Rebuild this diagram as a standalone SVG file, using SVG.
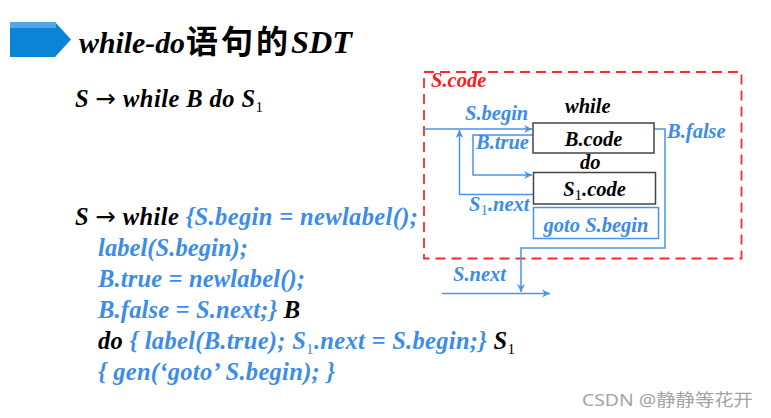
<svg xmlns="http://www.w3.org/2000/svg" width="771" height="418" viewBox="0 0 771 418">
<style>
.t{font-family:"Liberation Serif","Times New Roman",serif;font-weight:bold;font-style:italic}
.L{font-size:24.5px}
.d{font-size:20.5px}
.k{fill:#000}
.b{fill:#3c8ce8}
.r{fill:#ff1a1a}
.sub{font-style:normal;font-weight:normal;font-size:15px}
.ar{font-family:"DejaVu Sans",sans-serif;font-style:normal;font-weight:normal}
.cn{font-family:"Noto Sans CJK SC","Noto Sans",sans-serif;font-weight:bold;font-style:normal}
.ln{fill:none;stroke:#4a92ea;stroke-width:1.5}
.box{fill:#fff;stroke:#444;stroke-width:1.5}
</style>
<defs>
<marker id="ah" markerWidth="10" markerHeight="10" refX="8" refY="5" orient="auto" markerUnits="userSpaceOnUse">
<path d="M0,1 L8,5 L0,9 L2.5,5 Z" fill="#4a92ea"/>
</marker>
</defs>
<rect width="771" height="418" fill="#fff"/>

<g id="title">
<polygon points="10,22 55,22 71,39.5 55,57 10,57" fill="#0b84d6"/>
<rect x="10" y="22" width="46" height="6" fill="#52a6e2"/>
<text x="79" y="53" class="t k" font-size="30" textLength="106" lengthAdjust="spacingAndGlyphs">while-do</text>
<text x="186" y="53" class="cn" font-size="32" fill="#000" textLength="102" lengthAdjust="spacing">语句的</text>
<text x="291" y="53" class="t k" font-size="31" textLength="61" lengthAdjust="spacingAndGlyphs">SDT</text>
</g>

<g id="production">
<text x="75" y="107" class="t L k" textLength="188" lengthAdjust="spacing">S <tspan class="ar">→</tspan> while B do S<tspan class="sub" dy="5">1</tspan></text>
</g>

<g id="sdt">
<text x="75" y="225" class="t L k" textLength="343" lengthAdjust="spacing">S <tspan class="ar">→</tspan> while <tspan class="b">{S.begin = newlabel();</tspan></text>
<text x="98" y="256" class="t L b" textLength="150" lengthAdjust="spacing">label(S.begin);</text>
<text x="98" y="287" class="t L b" textLength="207" lengthAdjust="spacing">B.true = newlabel();</text>
<text x="98" y="318" class="t L b" textLength="202" lengthAdjust="spacing">B.false = S.next;} <tspan class="k">B</tspan></text>
<text x="98" y="349" class="t L k" textLength="417" lengthAdjust="spacing">do <tspan class="b">{ label(B.true); S<tspan class="sub" dy="5">1</tspan><tspan dy="-5">.next = S.begin;}</tspan></tspan> S<tspan class="sub" dy="5">1</tspan></text>
<text x="98" y="380" class="t L b" textLength="237" lengthAdjust="spacing">{ gen(‘goto’ S.begin); }</text>
</g>

<g id="scode">
<rect x="424" y="72" width="317.5" height="186.5" fill="none" stroke="#ff2a2a" stroke-width="1.8" stroke-dasharray="10,6"/>
<text x="431" y="87" class="t d r">S.code</text>
</g>

<g id="connectors">
<path class="ln" d="M424,129 H532" marker-end="url(#ah)"/>
<path class="ln" d="M533,194.5 H459.5 V130" marker-end="url(#ah)"/>
<path class="ln" d="M533,135 H473 V175 H532" marker-end="url(#ah)"/>
<path class="ln" d="M654,129 H665 V248 H521 V292" marker-end="url(#ah)"/>
<path class="ln" d="M442,293.5 H550" marker-end="url(#ah)"/>
</g>

<g id="bcode">
<text x="565" y="113" class="t d k">while</text>
<rect x="533" y="123" width="121" height="30" class="box"/>
<text x="593.5" y="146" class="t d k" text-anchor="middle">B.code</text>
</g>

<g id="s1code">
<text x="580" y="169" class="t d k">do</text>
<rect x="533.5" y="172.5" width="122" height="31.5" class="box"/>
<text x="594.5" y="196" class="t d k" text-anchor="middle">S<tspan class="sub" font-size="13" dy="4">1</tspan><tspan dy="-4">.code</tspan></text>
</g>

<g id="gotobox">
<rect x="533.5" y="207.5" width="125" height="31" fill="#fff" stroke="#4a92ea" stroke-width="1.5"/>
<text x="596" y="231.5" class="t d b" text-anchor="middle">goto S.begin</text>
</g>

<g id="labels">
<text x="465" y="120" class="t d b">S.begin</text>
<text x="476" y="149" class="t d b">B.true</text>
<text x="667" y="137.5" class="t d b">B.false</text>
<text x="469" y="210.5" class="t d b">S<tspan class="sub" font-size="13" dy="4">1</tspan><tspan dy="-4">.next</tspan></text>
<text x="453" y="281" class="t d b">S.next</text>
</g>

<text x="582" y="406" font-family="'Noto Sans','Noto Sans CJK SC',sans-serif" font-size="17" fill="#a3a3a3" textLength="171" lengthAdjust="spacingAndGlyphs">CSDN @静静等花开</text>
</svg>
